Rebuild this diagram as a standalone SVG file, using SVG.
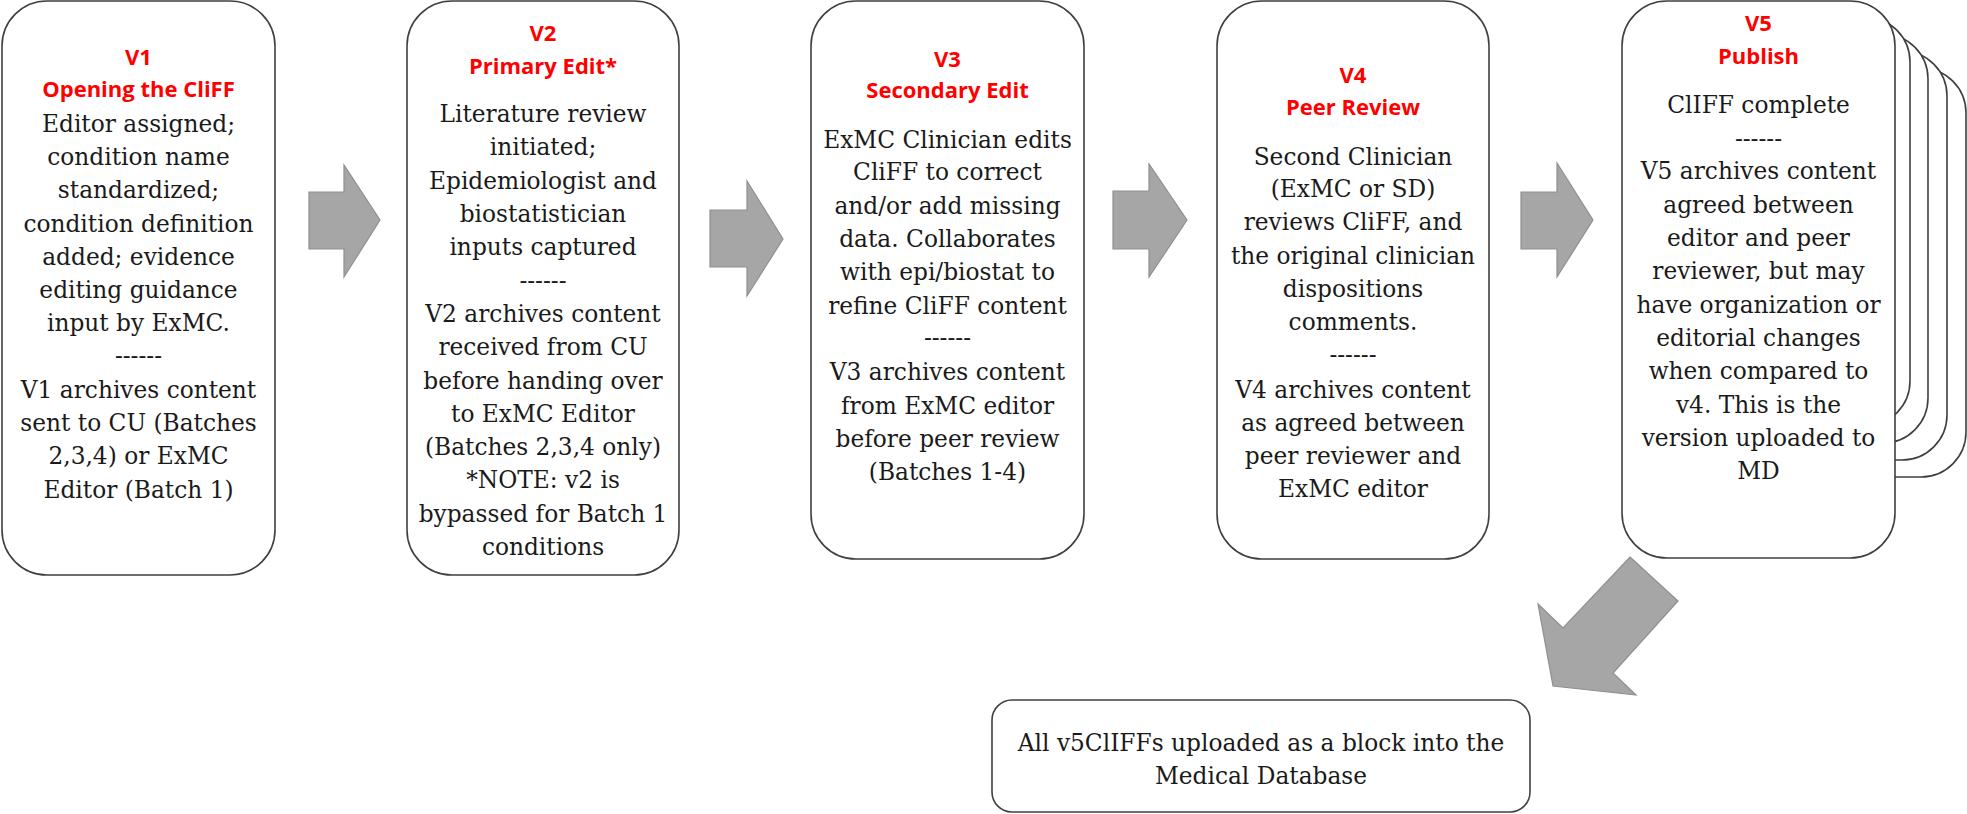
<svg xmlns="http://www.w3.org/2000/svg" width="1967" height="814" viewBox="0 0 1967 814">
<style>
.box{fill:#ffffff;stroke:#404040;stroke-width:1.6}
.arr{fill:#a6a6a6;stroke:#8f8f8f;stroke-width:1.2}
.hd{font-family:"Open Sans","Liberation Sans",sans-serif;font-weight:bold;font-size:22px;fill:#ff0000;text-anchor:middle}
.tx{font-family:"DejaVu Serif","Liberation Serif",serif;font-size:23.3px;fill:#1a1a1a;text-anchor:middle}
</style>
<rect width="1967" height="814" fill="#ffffff"/>
<g id="node-v1">
<rect class="box" x="2" y="1" width="273" height="574" rx="45" ry="45"/>
<text class="hd" x="138.5" y="65">V1</text>
<text class="hd" x="138.5" y="97">Opening the CliFF</text>
<text class="tx" x="138.5" y="132">Editor assigned;</text>
<text class="tx" x="138.5" y="165">condition name</text>
<text class="tx" x="138.5" y="198">standardized;</text>
<text class="tx" x="138.5" y="232">condition definition</text>
<text class="tx" x="138.5" y="265">added; evidence</text>
<text class="tx" x="138.5" y="298">editing guidance</text>
<text class="tx" x="138.5" y="331">input by ExMC.</text>
<text class="tx" x="138.5" y="364">------</text>
<text class="tx" x="138.5" y="398">V1 archives content</text>
<text class="tx" x="138.5" y="431">sent to CU (Batches</text>
<text class="tx" x="138.5" y="464">2,3,4) or ExMC</text>
<text class="tx" x="138.5" y="498">Editor (Batch 1)</text>
</g>
<g id="node-v2">
<rect class="box" x="407" y="1" width="272" height="574" rx="45" ry="45"/>
<text class="hd" x="543" y="41">V2</text>
<text class="hd" x="543" y="74">Primary Edit*</text>
<text class="tx" x="543" y="122">Literature review</text>
<text class="tx" x="543" y="155">initiated;</text>
<text class="tx" x="543" y="189">Epidemiologist and</text>
<text class="tx" x="543" y="222">biostatistician</text>
<text class="tx" x="543" y="255">inputs captured</text>
<text class="tx" x="543" y="289">------</text>
<text class="tx" x="543" y="322">V2 archives content</text>
<text class="tx" x="543" y="355">received from CU</text>
<text class="tx" x="543" y="389">before handing over</text>
<text class="tx" x="543" y="422">to ExMC Editor</text>
<text class="tx" x="543" y="455">(Batches 2,3,4 only)</text>
<text class="tx" x="543" y="488">*NOTE: v2 is</text>
<text class="tx" x="543" y="522">bypassed for Batch 1</text>
<text class="tx" x="543" y="555">conditions</text>
</g>
<g id="node-v3">
<rect class="box" x="811" y="1" width="273" height="558" rx="45" ry="45"/>
<text class="hd" x="947.5" y="67">V3</text>
<text class="hd" x="947.5" y="98">Secondary Edit</text>
<text class="tx" x="947.5" y="148">ExMC Clinician edits</text>
<text class="tx" x="947.5" y="180">CliFF to correct</text>
<text class="tx" x="947.5" y="214">and/or add missing</text>
<text class="tx" x="947.5" y="247">data. Collaborates</text>
<text class="tx" x="947.5" y="280">with epi/biostat to</text>
<text class="tx" x="947.5" y="314">refine CliFF content</text>
<text class="tx" x="947.5" y="346">------</text>
<text class="tx" x="947.5" y="380">V3 archives content</text>
<text class="tx" x="947.5" y="414">from ExMC editor</text>
<text class="tx" x="947.5" y="447">before peer review</text>
<text class="tx" x="947.5" y="480">(Batches 1-4)</text>
</g>
<g id="node-v4">
<rect class="box" x="1217" y="1" width="272" height="558" rx="45" ry="45"/>
<text class="hd" x="1353" y="83">V4</text>
<text class="hd" x="1353" y="115">Peer Review</text>
<text class="tx" x="1353" y="165">Second Clinician</text>
<text class="tx" x="1353" y="197">(ExMC or SD)</text>
<text class="tx" x="1353" y="230">reviews CliFF, and</text>
<text class="tx" x="1353" y="264">the original clinician</text>
<text class="tx" x="1353" y="297">dispositions</text>
<text class="tx" x="1353" y="330">comments.</text>
<text class="tx" x="1353" y="363">------</text>
<text class="tx" x="1353" y="398">V4 archives content</text>
<text class="tx" x="1353" y="431">as agreed between</text>
<text class="tx" x="1353" y="464">peer reviewer and</text>
<text class="tx" x="1353" y="497">ExMC editor</text>
</g>
<g id="node-v5">
<rect class="box" x="1692" y="68" width="274" height="409" rx="45" ry="45"/>
<rect class="box" x="1673" y="51" width="274" height="409" rx="45" ry="45"/>
<rect class="box" x="1654" y="34" width="274" height="409" rx="45" ry="45"/>
<rect class="box" x="1636" y="17" width="274" height="409" rx="45" ry="45"/>
<rect class="box" x="1622" y="1" width="273" height="557" rx="45" ry="45"/>
<text class="hd" x="1758.5" y="31">V5</text>
<text class="hd" x="1758.5" y="64">Publish</text>
<text class="tx" x="1758.5" y="113">ClIFF complete</text>
<text class="tx" x="1758.5" y="147">------</text>
<text class="tx" x="1758.5" y="179">V5 archives content</text>
<text class="tx" x="1758.5" y="213">agreed between</text>
<text class="tx" x="1758.5" y="246">editor and peer</text>
<text class="tx" x="1758.5" y="279">reviewer, but may</text>
<text class="tx" x="1758.5" y="313">have organization or</text>
<text class="tx" x="1758.5" y="346">editorial changes</text>
<text class="tx" x="1758.5" y="379">when compared to</text>
<text class="tx" x="1758.5" y="413">v4. This is the</text>
<text class="tx" x="1758.5" y="446">version uploaded to</text>
<text class="tx" x="1758.5" y="479">MD</text>
</g>
<g id="node-db">
<rect class="box" x="992" y="700" width="538" height="112" rx="20" ry="20"/>
<text class="tx" x="1261" y="751">All v5ClIFFs uploaded as a block into the</text>
<text class="tx" x="1261" y="784">Medical Database</text>
</g>
<g id="connectors">
<polygon class="arr" points="309,192 344,192 344,165 380,220 344,277 344,249 309,249"/>
<polygon class="arr" points="710,210 747,210 747,181 783,239 747,296 747,267 710,267"/>
<polygon class="arr" points="1113,191 1149,191 1149,164 1187,220 1149,277 1149,249 1113,249"/>
<polygon class="arr" points="1521,192 1557,192 1557,163 1593,220 1557,277 1557,249 1521,249"/>
<polygon class="arr" points="1630,557 1678,601 1613,673 1636,695 1553,686 1538,604 1563,628"/>
</g>
</svg>
